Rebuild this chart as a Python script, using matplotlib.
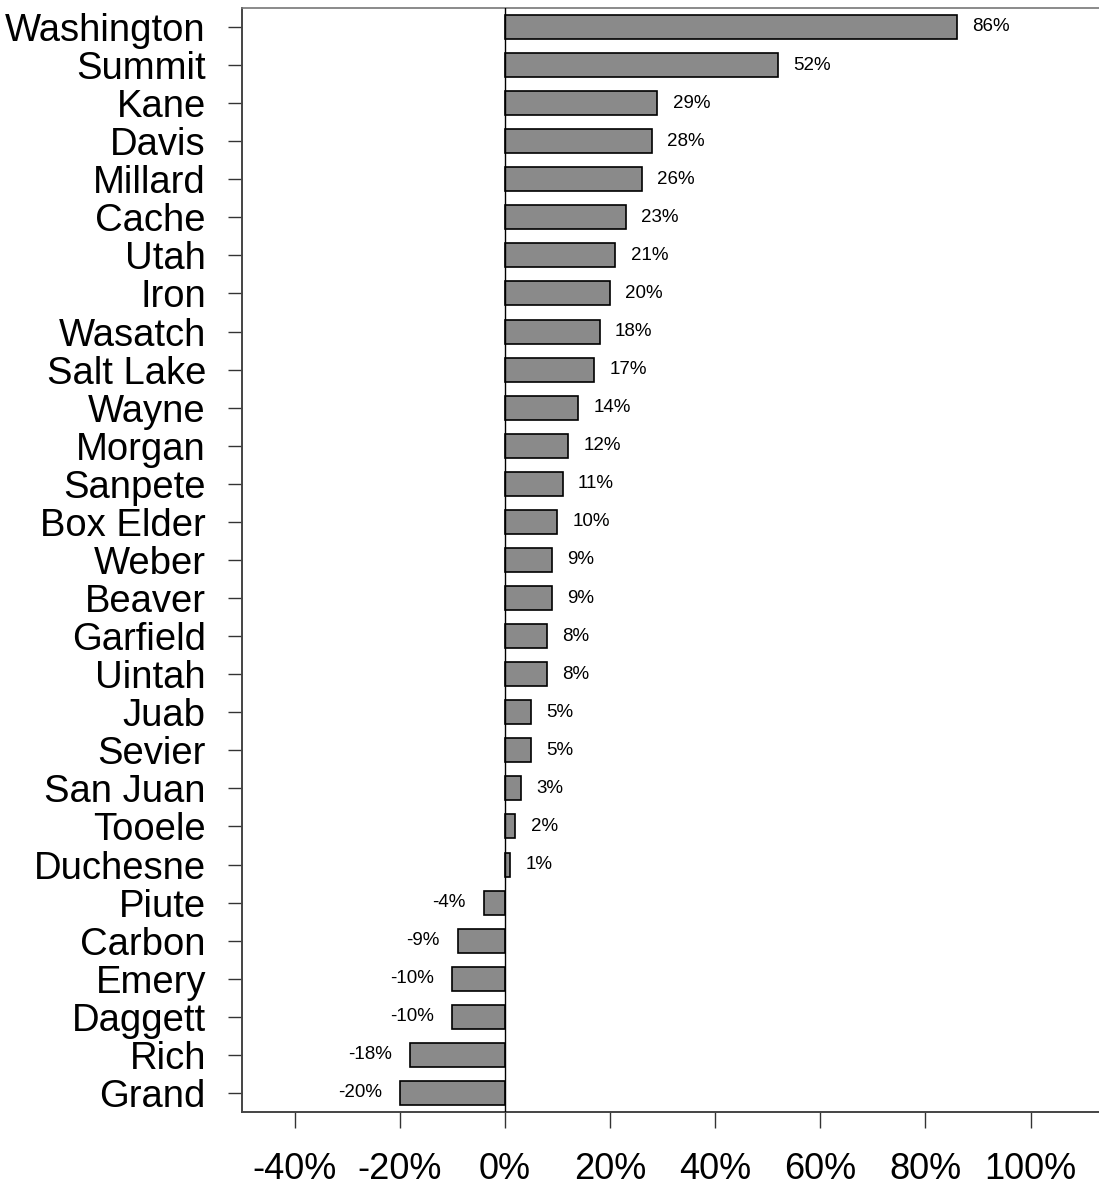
import matplotlib
matplotlib.use('Agg')
import matplotlib.pyplot as plt
import numpy as np

plt.rcParams['font.family'] = ['Liberation Sans', 'DejaVu Sans']

condados = ['Washington', 'Summit', 'Kane', 'Davis', 'Millard', 'Cache', 'Utah', 'Iron',
            'Wasatch', 'Salt Lake', 'Wayne', 'Morgan', 'Sanpete', 'Box Elder', 'Weber',
            'Beaver', 'Garfield', 'Uintah', 'Juab', 'Sevier', 'San Juan', 'Tooele',
            'Duchesne', 'Piute', 'Carbon', 'Emery', 'Daggett', 'Rich', 'Grand']
cambio = [86, 52, 29, 28, 26, 23, 21, 20, 18, 17, 14, 12, 11, 10, 9, 9, 8, 8,
          5, 5, 3, 2, 1, -4, -9, -10, -10, -18, -20]
ticks_x = [-40, -20, 0, 20, 40, 60, 80, 100]

fig = plt.figure(figsize=(10.99, 11.88), dpi=100)
ax = fig.add_axes([0.2202, 0.064, 0.7798, 0.9293])

y = np.arange(len(condados))
ax.barh(y, cambio, height=0.63, color='#8a8a8a', edgecolor='black', linewidth=1.2, zorder=2)
ax.axvline(0, color='black', linewidth=1.0, zorder=3)

for i in range(0, len(cambio)):
    v = cambio[i]
    if v >= 0:
        ax.annotate(str(v) + '%', (v, y[i]), xytext=(11, 0), textcoords='offset points',
                    ha='left', va='center', fontsize=13.5)
    else:
        ax.annotate(str(v) + '%', (v, y[i]), xytext=(-13, 0), textcoords='offset points',
                    ha='right', va='center', fontsize=13.5)

ax.set_xlim(-50, 113)
ax.set_ylim(len(condados) - 0.5, -0.5)
ax.set_yticks(y)
ax.set_yticklabels(condados, fontsize=27.5)
ax.set_xticks(ticks_x)
ax.set_xticklabels([str(t) + '%' for t in ticks_x], fontsize=26)

ax.tick_params(axis='y', length=10, width=1.0, pad=16, color='#333333')
ax.tick_params(axis='x', length=11.5, width=1.0, pad=17, color='#333333')
for lado in ['left', 'bottom']:
    ax.spines[lado].set_color('#444444')
    ax.spines[lado].set_linewidth(1.4)
ax.spines['top'].set_color('#777777')
ax.spines['top'].set_linewidth(1.2)
ax.spines['right'].set_visible(False)

fig.savefig('out.png', dpi=100)
